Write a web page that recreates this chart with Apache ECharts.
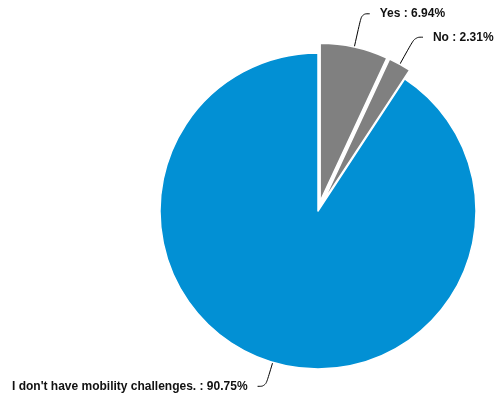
<!DOCTYPE html>
<html>
<head>
<meta charset="utf-8">
<script src="https://cdn.jsdelivr.net/npm/echarts@6/dist/echarts.min.js"></script>
<style>html,body{margin:0;padding:0;background:#fff}#c{width:495px;height:401px}</style>
</head>
<body>
<div id="c"></div>
<script>
const categories = ["Yes", "No", "I don't have mobility challenges."];
const percentages = [6.94, 2.31, 90.75];
const colors = ["#808080", "#808080", "#0290d4"];
const selectedFlags = [true, true, false];
const lineLengths = [34, 31, 25];

const chart = echarts.init(document.getElementById('c'), null, {renderer: 'canvas'});
chart.setOption({
  animation: false,
  series: [{
    type: 'pie',
    center: [318, 211],
    radius: [0, 158],
    startAngle: 90,
    clockwise: true,
    selectedMode: 'multiple',
    selectedOffset: 10,
    avoidLabelOverlap: false,
    itemStyle: {borderColor: '#fff', borderWidth: 1.5},
    label: {
      show: true,
      formatter: p => p.name + ' : ' + p.value.toFixed(2) + '%',
      fontFamily: 'Liberation Sans, Arial, sans-serif',
      fontWeight: 'bold',
      fontSize: 12,
      color: '#111',
      distanceToLabelLine: 10
    },
    labelLine: {
      show: true,
      length: 32,
      length2: 8,
      smooth: 0.4,
      lineStyle: {color: '#000', width: 1}
    },
    emphasis: {disabled: true},
    data: categories.map((c, i) => ({
      name: c,
      value: percentages[i],
      selected: selectedFlags[i],
      itemStyle: {color: colors[i]},
      labelLine: {length: lineLengths[i]}
    }))
  }]
});
</script>
</body>
</html>
